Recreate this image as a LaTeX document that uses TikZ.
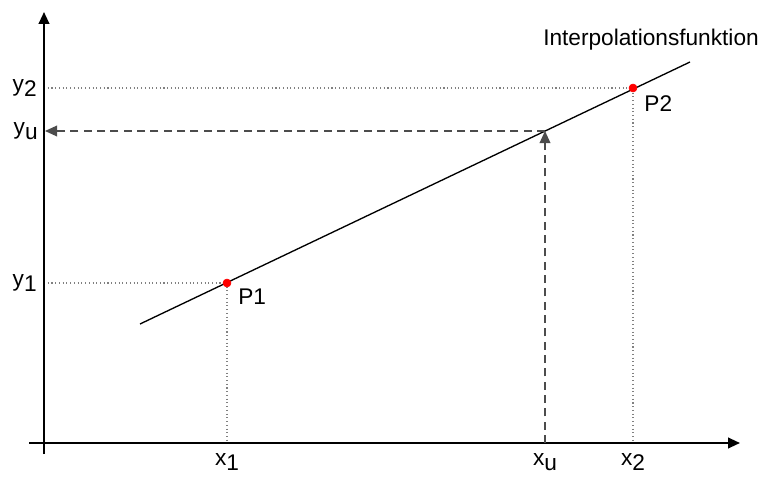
\documentclass[tikz,border=0pt]{standalone}
\usepackage{fontspec}
\setmainfont{Liberation Sans}
\usepackage{tikz}
\usetikzlibrary{positioning}
\usetikzlibrary{arrows.meta}
\newcommand{\lowsub}[2]{#1\raisebox{-0.45ex}{#2}}

\begin{document}
\begin{tikzpicture}[x=0.75pt, y=-0.75pt, font=\fontsize{17}{19}\selectfont]
    \useasboundingbox (0,0) rectangle (768,478);
    \tikzset{
        axis/.style={line width=1.5pt, -{Triangle[length=9pt,width=8pt]}},
        helper/.style={gray, line width=0.8pt, dotted},
        guide/.style={black!70, line width=1pt, dash pattern=on 6pt off 4pt, -{Triangle[length=9pt,width=8pt]}},
        marker/.style={red, fill=red}
    }
    % axes
    \coordinate (X0) at (29,443);
    \coordinate (X1) at (740,443);
    \coordinate (Y0) at (44,454);
    \coordinate (Y1) at (44,12);

    % points on the function
    \coordinate (L0) at (140,324);
    \coordinate (L1) at (690,62);
    \coordinate (P1) at (227,283);
    \coordinate (P2) at (633,88);
    \coordinate (U) at (545,131);

    % feet on the axes
    \coordinate (Fx1) at (227,443);
    \coordinate (Fx2) at (633,443);
    \coordinate (Fxu) at (545,443);
    \coordinate (Fy1) at (44,283);
    \coordinate (Fy2) at (44,88);
    \coordinate (Fyu) at (45,131);

    \draw[helper] (Fy2) -- (P2) -- (Fx2);
    \draw[helper] (Fy1) -- (P1) -- (Fx1);

    \draw[axis] (X0) -- (X1);
    \draw[axis] (Y0) -- (Y1);

    \draw[line width=1pt] (L0) -- (L1);

    \draw[guide] (Fxu) -- (U);
    \draw[guide] (U) -- (Fyu);

    \filldraw[marker] (P1) circle (4);
    \filldraw[marker] (P2) circle (4);

    \node[right=5pt of P1, yshift=-10pt] (p1) {P1};
    \node[right=5pt of P2, yshift=-12pt] (p2) {P2};

    \node[left=2pt of Fy2] (y2) {\lowsub{y}{2}};
    \node[left=2pt of Fyu] (yu) {\lowsub{y}{u}};
    \node[left=2pt of Fy1] (y1) {\lowsub{y}{1}};

    \node[below=4pt of Fx1] (x1) {\lowsub{x}{1}};
    \node[below=4pt of Fxu] (xu) {\lowsub{x}{u}};
    \node[below=4pt of Fx2] (x2) {\lowsub{x}{2}};

    \node (fn) at (651,40) {Interpolationsfunktion};
\end{tikzpicture}
\end{document}
